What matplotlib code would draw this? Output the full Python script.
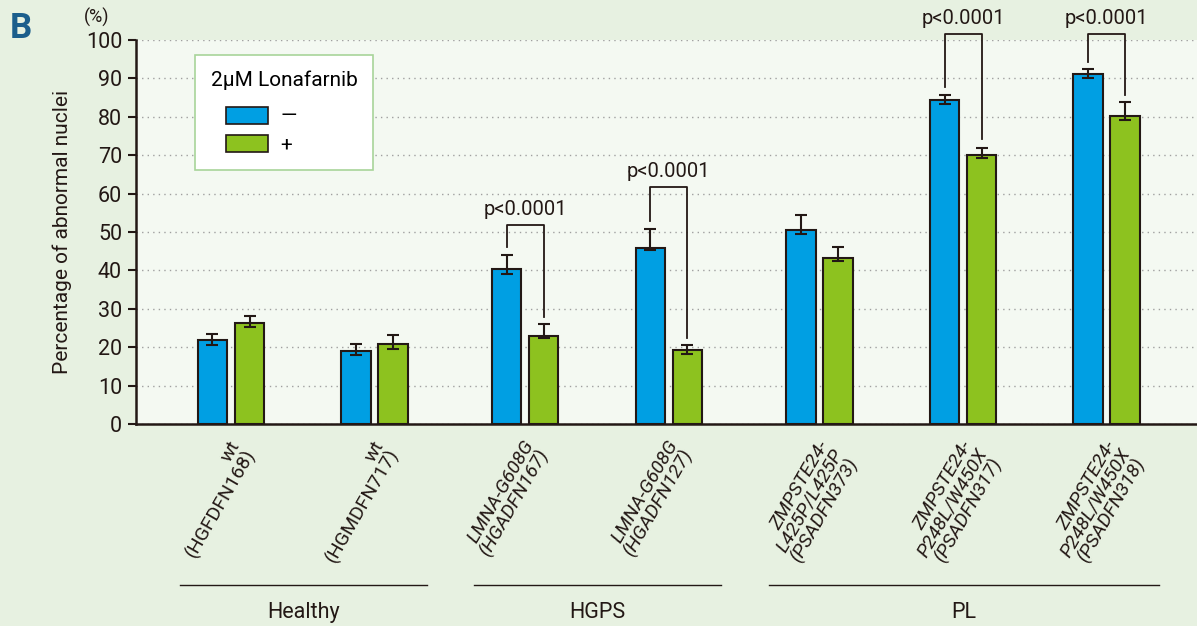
import matplotlib.pyplot as plt
import numpy as np
from matplotlib.patches import Patch
from matplotlib.offsetbox import DrawingArea
from matplotlib.transforms import blended_transform_factory

plt.rcParams['font.family'] = ['Roboto', 'DejaVu Sans']

# cell lines (tick labels) and their x slots; groups get a little extra gap
cell_lines = [
    "wt\n(HGFDFN168)",
    "wt\n(HGMDFN717)",
    "LMNA-G608G\n(HGADFN167)",
    "LMNA-G608G\n(HGADFN127)",
    "ZMPSTE24-\nL425P/L425P\n(PSADFN373)",
    "ZMPSTE24-\nP248L/W450X\n(PSADFN317)",
    "ZMPSTE24-\nP248L/W450X\n(PSADFN318)",
]
slots = np.array([0, 1, 2.05, 3.05, 4.1, 5.1, 6.1])

# % abnormal nuclei without (-) and with (+) 2uM lonafarnib
untreated = [21.9, 19.1, 40.3, 45.9, 50.4, 84.5, 91.2]
treated = [26.2, 20.9, 23.0, 19.2, 43.3, 70.1, 80.2]
untreated_err_up = [1.5, 1.7, 3.8, 5.0, 3.9, 1.2, 1.2]
treated_err_up = [1.9, 2.4, 3.0, 1.3, 2.9, 1.9, 3.7]
untreated_err_lo = [1.2, 1.1, 1.2, 0.7, 0.9, 1.1, 1.0]
treated_err_lo = [0.9, 1.3, 0.7, 1.0, 0.8, 0.9, 1.1]

# significance brackets: (cell line index, bracket top, left leg end, right leg end)
brackets = [
    (2, 51.7, 46.0, 27.9),
    (3, 61.8, 52.9, 22.5),
    (5, 101.6, 87.8, 74.2),
    (6, 101.6, 94.4, 85.8),
]
p_label = "p<0.0001"

groups = ["Healthy", "HGPS", "PL"]
group_members = [(0, 1), (2, 3), (4, 6)]

blue = "#009FE3"
green = "#8DC21F"
ink = "#231815"
bg = "#E7F1E1"

fig = plt.figure(figsize=(11.97, 6.26), dpi=100, facecolor=bg)
ax = fig.add_axes([0.1136, 0.3227, 0.8864, 0.6134])
ax.set_facecolor("#F4F9F2")

w = 0.205
off = 0.129
ax.bar(slots - off, untreated, w, color=blue, edgecolor=ink, linewidth=1.5, zorder=3)
ax.bar(slots + off, treated, w, color=green, edgecolor=ink, linewidth=1.5, zorder=3)
ax.errorbar(slots - off, untreated, yerr=[untreated_err_lo, untreated_err_up], fmt='none',
            ecolor=ink, elinewidth=1.5, capsize=4.5, capthick=1.5, zorder=4)
ax.errorbar(slots + off, treated, yerr=[treated_err_lo, treated_err_up], fmt='none',
            ecolor=ink, elinewidth=1.5, capsize=4.5, capthick=1.5, zorder=4)

for i, top, left_end, right_end in brackets:
    xl, xr = slots[i] - off, slots[i] + off
    ax.plot([xl, xl, xr, xr], [left_end, top, top, right_end], color=ink, lw=1.3,
            clip_on=False, zorder=5)
    ax.text(slots[i], top + 1.6, p_label, ha='center', va='bottom', fontsize=14.5,
            color=ink, clip_on=False)

ax.set_xlim(-0.662, 6.73)
ax.set_ylim(0, 100)
ax.set_yticks(np.arange(0, 101, 10))
ax.yaxis.grid(True, linestyle=(0, (1, 3)), color='#a0a0a0', linewidth=1.0, zorder=0)
ax.tick_params(axis='y', direction='out', length=6, width=1.5, labelsize=15.5, colors=ink, pad=4)
ax.tick_params(axis='x', length=0)
for s in ['top', 'right']:
    ax.spines[s].set_visible(False)
for s in ['left', 'bottom']:
    ax.spines[s].set_linewidth(1.8)
    ax.spines[s].set_color(ink)

ax.set_xticks(slots)
ax.set_xticklabels([])
trans = blended_transform_factory(ax.transData, ax.transAxes)
for x, lab in zip(slots, cell_lines):
    lines = lab.split("\n")
    style = 'normal' if lines[0] == "wt" else 'italic'
    ax.text(x - 0.02, -0.035, lab, transform=trans, rotation=60, rotation_mode='anchor',
            ha='right', va='top', multialignment='right', fontsize=14, color=ink,
            style=style, linespacing=0.92)

for name, (a, b) in zip(groups, group_members):
    x0, x1 = slots[a] - 0.355, slots[b] + 0.365
    ax.plot([x0, x1], [-0.42, -0.42], transform=trans, color=ink, lw=1.0, clip_on=False)
    ax.text((x0 + x1) / 2, -0.49, name, transform=trans, ha='center', va='center',
            fontsize=15.5, color=ink)

ax.set_ylabel("Percentage of abnormal nuclei", fontsize=15, color=ink, labelpad=10)
fig.text(97 / 1197, 1 - 17 / 626, "(%)", ha='center', va='center', fontsize=13, color=ink)
fig.text(21 / 1197, 1 - 28 / 626, "B", ha='center', va='center', fontsize=25,
         fontweight='bold', color="#1B5E8C")

handles = [Patch(facecolor=blue, edgecolor=ink, linewidth=1.2),
           Patch(facecolor=green, edgecolor=ink, linewidth=1.2)]
leg = ax.legend(handles, ["—", "+"], title="2μM Lonafarnib", loc='upper left',
                bbox_to_anchor=(0.0556, 0.961), borderaxespad=0, fontsize=15,
                title_fontsize=15, alignment='left', frameon=True, fancybox=False,
                framealpha=1, edgecolor='#A8D49A', handlelength=2.0, handleheight=0.87,
                borderpad=0.75, labelspacing=0.4, handletextpad=0.6)
leg.get_frame().set_linewidth(1.2)
leg._legend_box.sep = 12
# indent the swatches a little under the title
leg._legend_handle_box.sep = 0
leg._legend_handle_box._children.insert(0, DrawingArea(11, 1))

fig.savefig("out.png", dpi=100, facecolor=bg)
